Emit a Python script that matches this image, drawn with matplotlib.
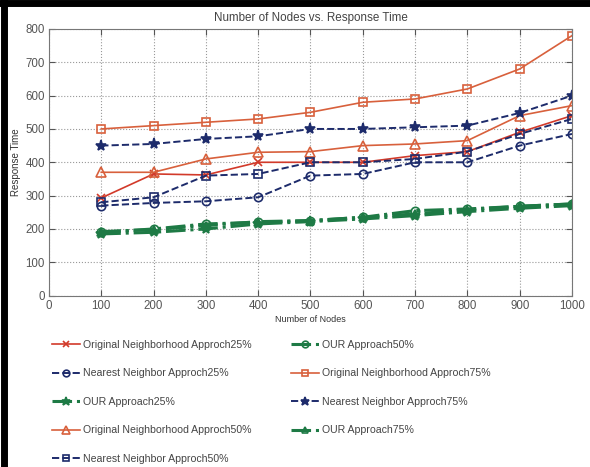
import matplotlib
matplotlib.use("Agg")
import matplotlib.pyplot as plt
from matplotlib.lines import Line2D

plt.rcParams['font.family'] = ['Liberation Sans', 'DejaVu Sans']

nodes = [100, 200, 300, 400, 500, 600, 700, 800, 900, 1000]

orig25 = [293, 365, 362, 400, 400, 400, 420, 432, 490, 540]
near25 = [270, 278, 283, 295, 360, 365, 400, 400, 450, 485]
our25 = [185, 190, 200, 215, 222, 230, 240, 252, 262, 270]
orig50 = [370, 370, 410, 430, 432, 450, 455, 465, 540, 570]
near50 = [280, 295, 360, 365, 400, 400, 410, 432, 485, 530]
our50 = [190, 200, 215, 220, 225, 235, 255, 260, 268, 275]
orig75 = [500, 510, 520, 530, 550, 580, 590, 620, 680, 780]
near75 = [450, 455, 470, 478, 500, 500, 505, 510, 548, 600]
our75 = [192, 198, 210, 222, 225, 235, 245, 258, 268, 275]

labels = ["Original Neighborhood Approch25%", "Nearest Neighbor Approch25%",
          "OUR Approach25%", "Original Neighborhood Approch50%",
          "Nearest Neighbor Approch50%", "OUR Approach50%",
          "Original Neighborhood Approch75%", "Nearest Neighbor Approch75%",
          "OUR Approach75%"]

red = "#d23a2a"
orange = "#d8603c"
navy = "#1d2b6b"
green = "#1e7a45"

styles = [
    (orig25, dict(color=red, ls="-", marker="x", lw=1.2, ms=6)),
    (near25, dict(color=navy, ls="--", marker="o", lw=1.4, ms=6, mfc="none")),
    (our25, dict(color=green, ls="-.", marker="*", lw=2.2, ms=8)),
    (orig50, dict(color=orange, ls="-", marker="^", lw=1.2, ms=7, mfc="none")),
    (near50, dict(color=navy, ls="--", marker="s", lw=1.4, ms=6, mfc="none")),
    (our50, dict(color=green, ls="-.", marker="o", lw=2.2, ms=6, mfc="none")),
    (orig75, dict(color=orange, ls="-", marker="s", lw=1.2, ms=6, mfc="none")),
    (near75, dict(color=navy, ls="--", marker="*", lw=1.4, ms=8)),
    (our75, dict(color=green, ls="-.", marker="^", lw=2.2, ms=6, mfc="none")),
]

fig = plt.figure(figsize=(5.9, 4.67), dpi=100)
ax = fig.add_axes([0.083, 0.367, 0.8865, 0.571])

handles = []
for (vals, st), lab in zip(styles, labels):
    h, = ax.plot(nodes, vals, label=lab, mew=1.2, **st)
    handles.append(h)

ax.set_xlim(0, 1000)
ax.set_ylim(0, 800)
ax.set_xticks(range(0, 1001, 100))
ax.set_yticks(range(0, 801, 100))
ax.grid(True, ls=":", color="#999999", lw=0.8)
for s in ax.spines.values():
    s.set_color("#777777")
ax.tick_params(direction="in", top=True, right=True, colors="#555555",
               labelsize=8.3, length=4, labelcolor="#555555", pad=3)
ax.set_title("Number of Nodes vs. Response Time", fontsize=8.4, color="#444444", pad=6)
ax.set_xlabel("Number of Nodes", fontsize=6.5, color="#333333", labelpad=2)
ax.set_ylabel("Response Time", fontsize=7, color="#333333", labelpad=3)

fig.legend(handles=handles, labels=labels, ncol=2, loc="upper left",
           bbox_to_anchor=(0.088, 0.272), frameon=False, fontsize=7.6,
           handlelength=2.65, handletextpad=0.3, columnspacing=3.7,
           labelspacing=1.75, borderpad=0, borderaxespad=0,
           labelcolor="#444444", markerscale=0.8)

# outer frame lines (left and top)
fig.add_artist(Line2D([0.006, 0.006], [0, 1], color="black", lw=5, transform=fig.transFigure))
fig.add_artist(Line2D([0, 1], [0.994, 0.994], color="black", lw=5, transform=fig.transFigure))

fig.savefig("out.png", dpi=100)
